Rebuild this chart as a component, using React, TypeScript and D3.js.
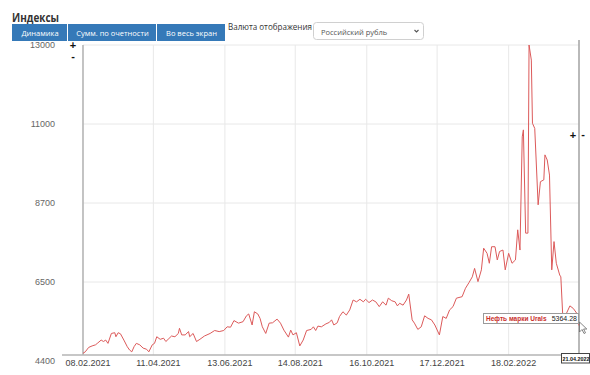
import React, { useEffect, useRef } from 'react'
import * as d3 from 'd3'

// Urals crude price, rub
const dates = [
  '2021-02-08', '2021-02-10', '2021-02-13', '2021-02-16', '2021-02-19', '2021-02-21', '2021-02-24', '2021-02-26', '2021-02-28',
  '2021-03-02', '2021-03-05', '2021-03-08', '2021-03-09', '2021-03-11', '2021-03-13', '2021-03-16', '2021-03-19', '2021-03-21',
  '2021-03-23', '2021-03-25', '2021-03-27', '2021-03-30', '2021-04-02', '2021-04-05', '2021-04-07', '2021-04-10', '2021-04-12',
  '2021-04-14', '2021-04-17', '2021-04-20', '2021-04-22', '2021-04-24', '2021-04-27', '2021-04-30', '2021-05-03', '2021-05-04',
  '2021-05-06', '2021-05-09', '2021-05-12', '2021-05-13', '2021-05-16', '2021-05-19', '2021-05-22', '2021-05-26', '2021-05-31',
  '2021-06-04', '2021-06-08', '2021-06-12', '2021-06-15', '2021-06-18', '2021-06-21', '2021-06-25', '2021-06-29', '2021-07-02',
  '2021-07-04', '2021-07-07', '2021-07-09', '2021-07-12', '2021-07-14', '2021-07-16', '2021-07-19', '2021-07-22', '2021-07-25',
  '2021-07-29', '2021-08-01', '2021-08-04', '2021-08-08', '2021-08-10', '2021-08-12', '2021-08-15', '2021-08-18', '2021-08-21',
  '2021-08-24', '2021-08-28', '2021-08-30', '2021-09-01', '2021-09-03', '2021-09-06', '2021-09-10', '2021-09-13', '2021-09-15',
  '2021-09-17', '2021-09-20', '2021-09-22', '2021-09-25', '2021-09-28', '2021-10-01', '2021-10-04', '2021-10-07', '2021-10-10',
  '2021-10-13', '2021-10-15', '2021-10-18', '2021-10-21', '2021-10-24', '2021-10-27', '2021-10-30', '2021-11-02', '2021-11-04',
  '2021-11-07', '2021-11-10', '2021-11-12', '2021-11-14', '2021-11-17', '2021-11-20', '2021-11-22', '2021-11-25', '2021-11-27',
  '2021-11-30', '2021-12-03', '2021-12-06', '2021-12-09', '2021-12-12', '2021-12-15', '2021-12-19', '2021-12-22', '2021-12-25',
  '2021-12-28', '2021-12-31', '2022-01-03', '2022-01-08', '2022-01-11', '2022-01-14', '2022-01-17', '2022-01-19', '2022-01-22',
  '2022-01-25', '2022-01-27', '2022-01-30', '2022-02-01', '2022-02-03', '2022-02-06', '2022-02-08', '2022-02-10', '2022-02-13',
  '2022-02-15', '2022-02-18', '2022-02-21', '2022-02-24', '2022-02-26', '2022-02-28', '2022-03-02', '2022-03-03', '2022-03-05',
  '2022-03-07', '2022-03-08', '2022-03-10', '2022-03-11', '2022-03-13', '2022-03-16', '2022-03-18', '2022-03-21', '2022-03-22',
  '2022-03-24', '2022-03-26', '2022-03-28', '2022-03-30', '2022-04-01', '2022-04-04', '2022-04-05', '2022-04-07', '2022-04-10',
  '2022-04-13', '2022-04-16', '2022-04-19', '2022-04-21'
]
const values = [
  4610, 4650, 4770, 4810, 4840, 4890, 4970, 4930, 4970,
  4880, 5150, 5170, 5060, 5170, 5140, 4970, 4790, 4700,
  4650, 4790, 4880, 4840, 4750, 4720, 4650, 4840, 4880,
  5060, 4990, 5020, 4930, 4990, 5080, 5060, 5150, 5290,
  5110, 5110, 5200, 5060, 5150, 4930, 4990, 5080, 5150,
  5230, 5200, 5230, 5330, 5320, 5500, 5430, 5470, 5630,
  5680, 5380, 5740, 5680, 5560, 5330, 5150, 5430, 5440,
  5540, 5430, 5240, 5050, 5240, 5110, 5170, 4810, 4970,
  5230, 5260, 5330, 5230, 5350, 5330, 5410, 5450, 5520,
  5380, 5440, 5610, 5740, 5650, 5790, 6060, 6010, 6080,
  6010, 6080, 5990, 6060, 6010, 5880, 6010, 5920, 6110,
  6040, 6010, 5900, 5970, 5920, 6060, 6220, 5520, 5430,
  5260, 5330, 5630, 5560, 5520, 5380, 5110, 5610, 5560,
  5790, 5880, 6110, 6150, 6380, 6530, 6690, 6920, 6560,
  6880, 7470, 7330, 7060, 7510, 7510, 7150, 7380, 7420,
  6880, 7330, 7060, 7150, 7970, 7420, 10500, 10690, 7880,
  7880, 13000, 12590, 10870, 10730, 8650, 9280, 9330, 10010,
  9870, 9460, 6880, 7650, 7060, 6740, 6690, 5430, 5700,
  5900, 5830, 5700, 5364.28
]
const seriesName = 'Нефть марки Urals'

const yTicks = [4400, 6550, 8700, 10850, 13000]
const yTickLabels = ['4400', '6500', '8700', '11000', '13000']
const xTicks = ['2021-02-08', '2021-04-11', '2021-06-13', '2021-08-14', '2021-10-16', '2021-12-17', '2022-02-18']

const buttons = ['Динамика', 'Сумм. по очетности', 'Во весь экран']
const buttonEdges = [12, 68, 157, 226]

const App = () => {
  const ref = useRef<SVGSVGElement>(null)

  useEffect(() => {
    const svg = d3.select(ref.current)
    svg.selectAll('*').remove()

    const parse = d3.timeParse('%Y-%m-%d')
    const fmt = d3.timeFormat('%d.%m.%Y')
    const data = dates.map((d, i) => ({ date: parse(d) as Date, value: values[i] }))

    const left = 83, right = 579, top = 45, bottom = 355

    const x = d3.scaleTime()
      .domain([parse('2021-02-08') as Date, parse('2022-04-21') as Date])
      .range([left, right])
    const y = d3.scaleLinear().domain([4400, 13000]).range([361, top])

    const sans = 'Liberation Sans, Arial, sans-serif'
    const ui = 'Open Sans, Noto Sans, sans-serif'

    // header
    svg.append('text').attr('x', 12).attr('y', 22)
      .attr('font-family', ui).attr('font-weight', 700).attr('font-size', 12)
      .attr('textLength', 47).attr('lengthAdjust', 'spacingAndGlyphs')
      .attr('fill', '#333').text('Индексы')

    buttons.forEach((b, i) => {
      const x0 = buttonEdges[i], x1 = buttonEdges[i + 1]
      svg.append('rect').attr('x', x0).attr('y', 24).attr('width', x1 - x0 - 1).attr('height', 17)
        .attr('fill', '#3579b8')
      svg.append('text').attr('x', (x0 + x1) / 2).attr('y', 35.5)
        .attr('text-anchor', 'middle').attr('font-family', ui).attr('font-size', 7.5)
        .attr('fill', '#fff').text(b)
    })

    svg.append('text').attr('x', 228).attr('y', 30)
      .attr('font-family', ui).attr('font-size', 9.5).attr('fill', '#333')
      .attr('textLength', 84).attr('lengthAdjust', 'spacingAndGlyphs').text('Валюта отображения')
    svg.append('rect').attr('x', 313.5).attr('y', 22.5).attr('width', 110).attr('height', 17).attr('rx', 3)
      .attr('fill', '#fff').attr('stroke', '#d0d0d0')
    svg.append('text').attr('x', 321).attr('y', 34.5)
      .attr('font-family', ui).attr('font-size', 7.5).attr('fill', '#555').text('Российский рубль')
    svg.append('path').attr('d', 'M414.5,30 L416.5,32 L418.5,30').attr('fill', 'none')
      .attr('stroke', '#555').attr('stroke-width', 1.1)

    // grid
    svg.append('g').selectAll('line').data(yTicks.slice(1)).enter().append('line')
      .attr('x1', left).attr('x2', right).attr('y1', d => y(d)).attr('y2', d => y(d))
      .attr('stroke', '#e8e8e8')
    svg.append('g').selectAll('line').data(xTicks.slice(1)).enter().append('line')
      .attr('x1', d => x(parse(d) as Date)).attr('x2', d => x(parse(d) as Date))
      .attr('y1', top).attr('y2', bottom).attr('stroke', '#e8e8e8')

    // axes
    svg.append('line').attr('x1', left).attr('x2', left).attr('y1', top).attr('y2', bottom)
      .attr('stroke', '#b5b5b5').attr('stroke-width', 1.6)
    svg.append('line').attr('x1', 62).attr('x2', right).attr('y1', bottom).attr('y2', bottom)
      .attr('stroke', '#b5b5b5').attr('stroke-width', 1.4)

    svg.append('g').selectAll('text').data(yTicks).enter().append('text')
      .attr('x', 55).attr('y', d => y(d) + 3).attr('text-anchor', 'end')
      .attr('font-family', sans).attr('font-size', 9).attr('fill', '#666')
      .text((d, i) => yTickLabels[i])

    svg.append('g').selectAll('text').data(xTicks).enter().append('text')
      .attr('x', d => x(parse(d) as Date) + 5).attr('y', 366).attr('text-anchor', 'middle')
      .attr('font-family', sans).attr('font-size', 9).attr('fill', '#444')
      .text(d => fmt(parse(d) as Date))

    // zoom +/- marks
    const pm = (px: number, py: number, s: string) =>
      svg.append('text').attr('x', px).attr('y', py).attr('text-anchor', 'middle')
        .attr('font-family', sans).attr('font-weight', 700).attr('font-size', 11).attr('fill', '#111').text(s)
    pm(73, 49, '+')
    pm(73, 60, '-')
    pm(573, 139, '+')
    pm(583, 138, '-')

    // crosshair line
    svg.append('line').attr('x1', right).attr('x2', right).attr('y1', 40).attr('y2', bottom + 2)
      .attr('stroke', '#a8a8a8').attr('stroke-width', 1.6)

    // series
    const line = d3.line<{ date: Date; value: number }>()
      .x(d => x(d.date))
      .y(d => y(d.value))
    svg.append('path').datum(data).attr('d', line)
      .attr('fill', 'none').attr('stroke', '#dc5a5a').attr('stroke-width', 1)

    // tooltip
    const last = data[data.length - 1]
    svg.append('rect').attr('x', 483.5).attr('y', 313.5).attr('width', 95).attr('height', 10)
      .attr('fill', '#fff').attr('stroke', '#9a9a9a')
    svg.append('text').attr('x', 486).attr('y', 321).attr('font-family', sans)
      .attr('font-weight', 700).attr('font-size', 6.5).attr('fill', '#c9302c').text(seriesName)
    svg.append('text').attr('x', 577).attr('y', 321).attr('text-anchor', 'end').attr('font-family', sans)
      .attr('font-size', 7).attr('fill', '#222').text(d3.format('.2f')(last.value))

    // date label at crosshair
    svg.append('rect').attr('x', 561.5).attr('y', 353.5).attr('width', 28).attr('height', 9.5)
      .attr('fill', '#fff').attr('stroke', '#444')
    svg.append('text').attr('x', 562.5).attr('y', 360.8).attr('font-family', sans)
      .attr('font-weight', 700).attr('font-size', 5.4).attr('fill', '#111').text(fmt(last.date))

    // mouse cursor
    svg.append('path')
      .attr('d', 'M579.5,322 L579.5,332 L582,329.5 L584,333.5 L585.5,332.8 L583.6,329 L586.8,329 Z')
      .attr('fill', '#fff').attr('stroke', '#666').attr('stroke-width', 0.8)
  }, [])

  return (
    <div style={{ position: 'fixed', left: 0, top: 0, width: 590, height: 375, background: '#fff' }}>
      <svg ref={ref} width={590} height={375} />
    </div>
  )
}

export default App
